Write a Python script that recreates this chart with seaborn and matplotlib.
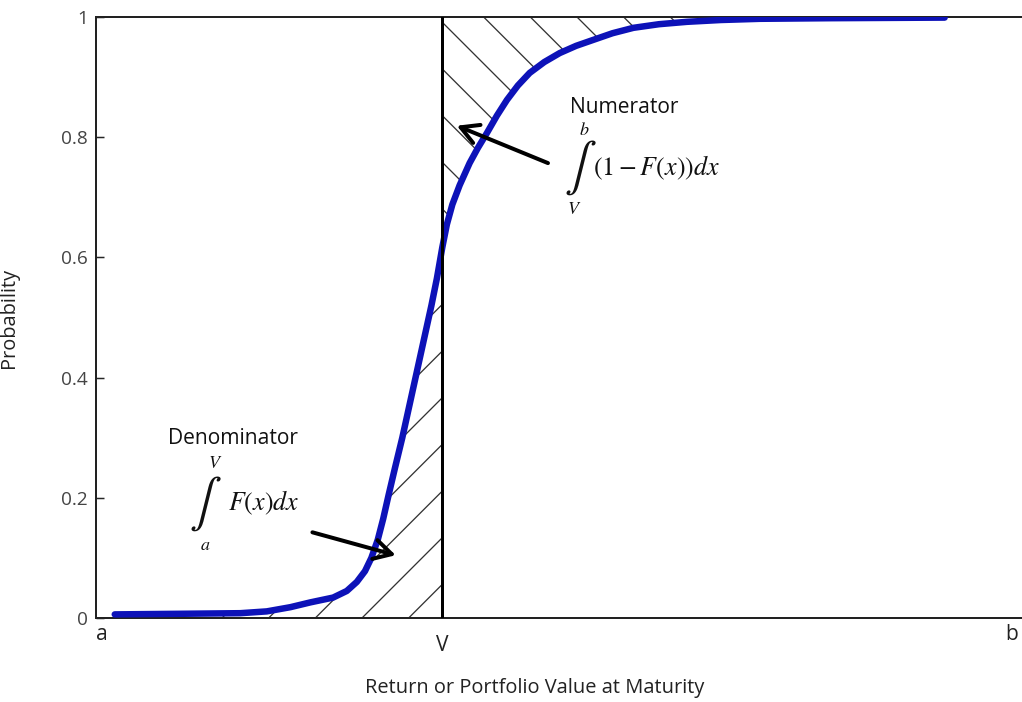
import numpy as np
import pandas as pd
import matplotlib
matplotlib.use("Agg")
import matplotlib.pyplot as plt
import seaborn as sns

# cumulative distribution (x in units where a=0, b=100)
cdf_x = [1.4, 8.6, 15.2, 18.1, 20.7, 22.9, 25.4, 26.9, 28.0, 28.9, 29.6, 30.3,
         30.9, 31.5, 32.2, 33.0, 33.8, 34.6, 35.4, 36.2, 36.8, 37.4, 37.9,
         38.5, 39.3, 40.4, 41.3, 42.3, 43.4, 44.5, 45.7, 47.0, 48.6, 50.3,
         52.1, 54.0, 56.1, 58.4, 61.2, 64.3, 68.0, 72.3, 80.0, 92.6]
cdf_p = [0.006, 0.007, 0.008, 0.011, 0.018, 0.026, 0.034, 0.045, 0.060, 0.078,
         0.100, 0.130, 0.165, 0.205, 0.250, 0.300, 0.355, 0.410, 0.465, 0.520,
         0.565, 0.617, 0.655, 0.688, 0.720, 0.757, 0.782, 0.807, 0.836, 0.862,
         0.886, 0.907, 0.925, 0.940, 0.952, 0.962, 0.973, 0.982, 0.988, 0.992,
         0.995, 0.997, 0.998, 0.999]

x_tick_pos = [0, 37.4, 100]
x_tick_labels = ["a", "V", "b"]
y_ticks = [0, 0.2, 0.4, 0.6, 0.8, 1]
y_tick_labels = ["0", "0.2", "0.4", "0.6", "0.8", "1"]
v_pos = 37.4

DPI = 280
P = 72 / DPI  # pixel -> point


def px(v):
    return v * P


sns.set_style("white")
plt.rcParams["font.family"] = ["Open Sans", "DejaVu Sans"]
plt.rcParams["mathtext.fontset"] = "stix"
plt.rcParams["hatch.linewidth"] = px(1.3)

df = pd.DataFrame({"x": cdf_x, "p": cdf_p})

fig = plt.figure(figsize=(1022 / DPI, 702 / DPI), dpi=DPI)
ax = fig.add_axes([96 / 1022, 84 / 702, 926 / 1022, 601 / 702])

# hatched areas: F(x) left of V, 1-F(x) right of V
left = df[df.x <= v_pos]
right = df[df.x >= v_pos]
ax.fill_between(left.x, 0, left.p, facecolor="none", edgecolor="#333333",
                hatch="//", linewidth=0)
ax.fill_between(right.x, right.p, 1, facecolor="none", edgecolor="#333333",
                hatch="\\\\", linewidth=0)

sns.lineplot(data=df, x="x", y="p", ax=ax, color="#0d12b8", lw=px(6.5),
             sort=False, zorder=3, solid_joinstyle="round",
             solid_capstyle="round")
ax.axvline(v_pos, color="black", lw=px(3), zorder=4)

ax.set_xlim(-0.66, 101.1)
ax.set_ylim(0, 1)
ax.set_yticks(y_ticks)
ax.set_yticklabels(y_tick_labels)
ax.set_xticks(x_tick_pos)
ax.set_xticklabels(x_tick_labels)

ax.tick_params(axis="y", direction="in", length=px(8), width=px(1.5),
               pad=px(8), labelsize=px(19), labelcolor="#444444", left=True)
ax.tick_params(axis="x", length=0, pad=px(6), labelsize=px(21),
               labelcolor="#222222")
ax.xaxis.get_major_ticks()[1].set_pad(px(17))

for side in ["left", "top", "bottom"]:
    ax.spines[side].set_color("#222222")
    ax.spines[side].set_linewidth(px(2))
ax.spines["right"].set_visible(False)

ax.set_xlabel("Return or Portfolio Value at Maturity", fontsize=px(20),
              color="#222222")
ax.xaxis.set_label_coords(0.474, -0.100)
ax.set_ylabel("Probability", fontsize=px(20), color="#222222")
ax.yaxis.set_label_coords(-0.083, 0.50)

txt = dict(color="#111111", va="center")

# numerator annotation
ax.text(51.4, 0.850, "Numerator", fontsize=px(21), ha="left", **txt)
ax.text(52.6, 0.749, r"$\int$", fontsize=px(48), ha="center", **txt)
ax.text(53.0, 0.812, r"$b$", fontsize=px(18), ha="center", **txt)
ax.text(51.9, 0.680, r"$V$", fontsize=px(18), ha="center", **txt)
ax.text(54.0, 0.749, r"$\left(1-F(x)\right)dx$", fontsize=px(26), ha="left",
        **txt)
ax.annotate("", xy=(38.2, 0.824), xytext=(49.8, 0.752),
            arrowprops=dict(arrowstyle="->,head_length=0.45,head_width=0.25",
                            color="black", lw=px(4)))

# denominator annotation
ax.text(7.25, 0.298, "Denominator", fontsize=px(21), ha="left", **txt)
ax.text(11.4, 0.191, r"$\int$", fontsize=px(48), ha="center", **txt)
ax.text(12.4, 0.258, r"$V$", fontsize=px(18), ha="center", **txt)
ax.text(11.4, 0.122, r"$a$", fontsize=px(18), ha="center", **txt)
ax.text(13.9, 0.191, r"$F(x)dx$", fontsize=px(26), ha="left", **txt)
ax.annotate("", xy=(33.1, 0.101), xytext=(22.3, 0.146),
            arrowprops=dict(arrowstyle="->,head_length=0.45,head_width=0.25",
                            color="black", lw=px(4)))

fig.savefig("out.png", dpi=DPI)
